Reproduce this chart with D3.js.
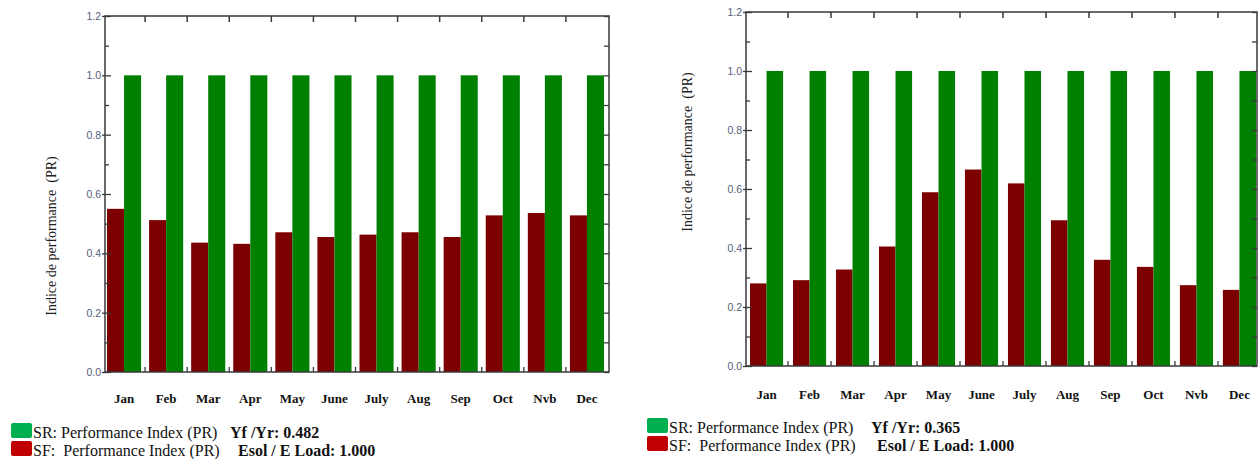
<!DOCTYPE html>
<html>
<head>
<meta charset="utf-8">
<script src="https://cdn.jsdelivr.net/npm/d3@7"></script>
<style>
  body { margin: 0; background: #fff; }
  svg { display: block; }
  text { white-space: pre; }
</style>
</head>
<body>
<script>

// chart values
var months = ["Jan", "Feb", "Mar", "Apr", "May", "June", "July", "Aug", "Sep", "Oct", "Nvb", "Dec"]
var series = ["SF", "SR"]

var srLeft  = [1.0, 1.0, 1.0, 1.0, 1.0, 1.0, 1.0, 1.0, 1.0, 1.0, 1.0, 1.0]
var sfLeft  = [0.550, 0.512, 0.436, 0.432, 0.471, 0.455, 0.463, 0.471, 0.455, 0.528, 0.536, 0.528]
var srRight = [1.0, 1.0, 1.0, 1.0, 1.0, 1.0, 1.0, 1.0, 1.0, 1.0, 1.0, 1.0]
var sfRight = [0.280, 0.291, 0.327, 0.405, 0.589, 0.666, 0.619, 0.494, 0.360, 0.336, 0.274, 0.258]

var yMajor = [0, 0.2, 0.4, 0.6, 0.8, 1.0, 1.2]
var yMinor = [0.1, 0.3, 0.5, 0.7, 0.9, 1.1]
var yLabel = "Indice de performance  (PR)"

var legendLeft  = [["SR: Performance Index (PR)", "Yf /Yr: 0.482"], ["SF:  Performance Index (PR)", "Esol / E Load: 1.000"]]
var legendRight = [["SR: Performance Index (PR)", "Yf /Yr: 0.365"], ["SF:  Performance Index (PR)", "Esol / E Load: 1.000"]]

var colors = { SF: "#7d0000", SR: "#008000" }
var legendColors = ["#00b050", "#c00000"]
var serif = "'Liberation Serif', 'Times New Roman', serif"

var svg = d3.select("body").append("svg")
    .attr("width", 1258)
    .attr("height", 459)

function drawPanel(opt) {
  var g = svg.append("g")

  var y = d3.scaleLinear().domain([0, 1.2]).range([opt.bottom, opt.top])
  var x = d3.scaleBand().domain(months)
      .range([opt.barLeft, opt.barRight])
      .paddingInner(opt.pad).paddingOuter(0)
  var xs = d3.scaleBand().domain(series).range([0, x.bandwidth()])

  var rows = months.map(function(m, i) {
    return { month: m, SF: opt.sf[i], SR: opt.sr[i] }
  })

  // bars
  var groups = g.selectAll("g.grp").data(rows).enter().append("g")
      .attr("class", "grp")
      .attr("transform", function(d) { return "translate(" + x(d.month) + ",0)" })
  groups.selectAll("rect").data(function(d) {
      return series.map(function(s) { return { key: s, value: d[s] } })
    }).enter().append("rect")
      .attr("x", function(d) { return xs(d.key) })
      .attr("y", function(d) { return y(d.value) })
      .attr("width", xs.bandwidth())
      .attr("height", function(d) { return y(0) - y(d.value) })
      .style("fill", function(d) { return colors[d.key] })

  // frame
  g.append("rect")
      .attr("x", opt.frameLeft).attr("y", y(1.2))
      .attr("width", opt.frameRight - opt.frameLeft)
      .attr("height", y(0) - y(1.2))
      .style("fill", "none").style("stroke", "#3a3a3a").style("stroke-width", 1.5)

  // y axis, labels on the left, ticks crossing the line
  var yAxis = g.append("g")
      .attr("transform", "translate(" + opt.frameLeft + ",0)")
      .call(d3.axisLeft(y).tickValues(yMajor).tickFormat(d3.format(".1f"))
              .tickSizeInner(-6).tickSizeOuter(0).tickPadding(4))
  yAxis.select(".domain").remove()
  yAxis.selectAll(".tick line").attr("x1", -3).style("stroke", "#3a3a3a").style("stroke-width", 1.3)
  yAxis.selectAll(".tick text")
      .style("font-family", "'Liberation Sans', Arial, sans-serif")
      .style("font-size", "10.5px").style("fill", "#56607a")

  var yMin = g.append("g")
      .attr("transform", "translate(" + opt.frameLeft + ",0)")
      .call(d3.axisLeft(y).tickValues(yMinor).tickFormat("").tickSizeInner(-4).tickSizeOuter(0))
  yMin.select(".domain").remove()
  yMin.selectAll(".tick line").style("stroke", "#3a3a3a").style("stroke-width", 1.3)

  // right side ticks, pointing inwards
  var yRight = g.append("g")
      .attr("transform", "translate(" + opt.frameRight + ",0)")
      .call(d3.axisRight(y).tickValues(yMajor.concat(yMinor)).tickFormat("").tickSizeInner(-5).tickSizeOuter(0))
  yRight.select(".domain").remove()
  yRight.selectAll(".tick line").style("stroke", "#3a3a3a").style("stroke-width", 1.3)

  // top and bottom ticks sit in the gaps between the month groups
  var gapX = function(m) { return x(m) - x.step() * x.paddingInner() / 2 }
  var gaps = months.slice(1)
  g.selectAll("line.top").data(gaps).enter().append("line")
      .attr("class", "top")
      .attr("x1", gapX).attr("x2", gapX)
      .attr("y1", y(1.2)).attr("y2", y(1.2) + 6)
      .style("stroke", "#3a3a3a").style("stroke-width", 1.5)
  g.selectAll("line.bot").data(gaps).enter().append("line")
      .attr("class", "bot")
      .attr("x1", gapX).attr("x2", gapX)
      .attr("y1", y(0)).attr("y2", y(0) - 5)
      .style("stroke", "#3a3a3a").style("stroke-width", 1.3)

  // month names
  g.selectAll("text.month").data(months).enter().append("text")
      .attr("class", "month")
      .attr("x", function(m) { return x(m) + x.bandwidth() / 2 })
      .attr("y", opt.monthY)
      .attr("text-anchor", "middle")
      .style("font-family", serif).style("font-weight", "bold")
      .style("font-size", "13px").style("fill", "#111")
      .text(function(m) { return m })

  // y axis title
  g.append("text")
      .attr("transform", "translate(" + opt.titleX + "," + opt.titleY + ") rotate(-90)")
      .attr("text-anchor", "middle")
      .style("font-family", serif).style("font-size", "14px").style("fill", "#222")
      .text(yLabel)

  // legend
  opt.legend.forEach(function(row, i) {
    var ly = opt.legendY + i * opt.legendStep
    g.append("rect")
        .attr("x", opt.legendX).attr("y", ly - 15)
        .attr("width", 21).attr("height", 15).attr("rx", 2)
        .style("fill", legendColors[i])
    var t = g.append("text")
        .attr("y", ly)
        .style("font-family", serif).style("font-size", "16px").style("fill", "#111")
    t.append("tspan").attr("x", opt.legendX + 22).text(row[0])
    t.append("tspan").attr("x", opt.legendX + opt.boldX[i])
        .style("font-weight", "bold").text(row[1])
  })
}

drawPanel({
  sf: sfLeft, sr: srLeft,
  top: 16, bottom: 372,
  frameLeft: 105, frameRight: 609,
  barLeft: 107, barRight: 604, pad: 0.19,
  monthY: 403,
  titleX: 56, titleY: 236,
  legend: legendLeft, legendX: 11, legendY: 438, legendStep: 18,
  boldX: [219, 227]
})

drawPanel({
  sf: sfRight, sr: srRight,
  top: 12, bottom: 366,
  frameLeft: 746, frameRight: 1257,
  barLeft: 750, barRight: 1256, pad: 0.23,
  monthY: 399,
  titleX: 692, titleY: 152,
  legend: legendRight, legendX: 647, legendY: 433, legendStep: 18,
  boldX: [224, 230]
})

</script>
</body>
</html>
